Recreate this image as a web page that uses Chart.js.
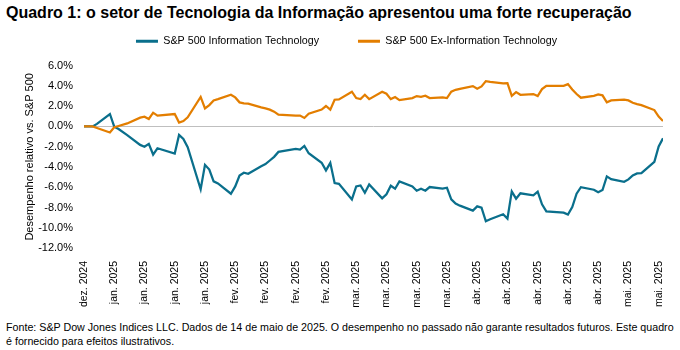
<!DOCTYPE html>
<html>
<head>
<meta charset="utf-8">
<script src="https://cdn.jsdelivr.net/npm/chart.js@4.4.1/dist/chart.umd.min.js"></script>
<style>
  html, body { margin: 0; padding: 0; background: #fff; }
  body { width: 680px; height: 350px; position: relative; overflow: hidden;
         font-family: "Liberation Sans", Arial, sans-serif; color: #000; }
  #title { position: absolute; left: 6px; top: 4px; font-size: 16px; font-weight: bold; white-space: nowrap; }
  #wrap { position: absolute; left: 0; top: -3px; width: 680px; height: 320px; }
  #note { position: absolute; left: 6px; top: 320px; width: 674px; font-size: 10.7px; line-height: 14px; white-space: nowrap; }
</style>
</head>
<body>
<div id="title">Quadro 1: o setor de Tecnologia da Informação apresentou uma forte recuperação</div>
<div id="wrap"><canvas id="chart"></canvas></div>
<div id="note">Fonte: S&amp;P Dow Jones Indices LLC. Dados de 14 de maio de 2025. O desempenho no passado não garante resultados futuros. Este quadro<br>é fornecido para efeitos ilustrativos.</div>
<script>
// trading days, 31/12/2024 - 14/05/2025
const tradingDates = [
  '2024-12-31',
  '2025-01-02', '2025-01-03', '2025-01-06', '2025-01-07', '2025-01-08', '2025-01-10',
  '2025-01-13', '2025-01-14', '2025-01-15', '2025-01-16', '2025-01-17',
  '2025-01-21', '2025-01-22', '2025-01-23', '2025-01-24',
  '2025-01-27', '2025-01-28', '2025-01-29', '2025-01-30', '2025-01-31',
  '2025-02-03', '2025-02-04', '2025-02-05', '2025-02-06', '2025-02-07',
  '2025-02-10', '2025-02-11', '2025-02-12', '2025-02-13', '2025-02-14',
  '2025-02-18', '2025-02-19', '2025-02-20', '2025-02-21',
  '2025-02-24', '2025-02-25', '2025-02-26', '2025-02-27', '2025-02-28',
  '2025-03-03', '2025-03-04', '2025-03-05', '2025-03-06', '2025-03-07',
  '2025-03-10', '2025-03-11', '2025-03-12', '2025-03-13', '2025-03-14',
  '2025-03-17', '2025-03-18', '2025-03-19', '2025-03-20', '2025-03-21',
  '2025-03-24', '2025-03-25', '2025-03-26', '2025-03-27', '2025-03-28',
  '2025-03-31', '2025-04-01', '2025-04-02', '2025-04-03', '2025-04-04',
  '2025-04-07', '2025-04-08', '2025-04-09', '2025-04-10', '2025-04-11',
  '2025-04-14', '2025-04-15', '2025-04-16', '2025-04-17',
  '2025-04-21', '2025-04-22', '2025-04-23', '2025-04-24', '2025-04-25',
  '2025-04-28', '2025-04-29', '2025-04-30', '2025-05-01', '2025-05-02',
  '2025-05-05', '2025-05-06', '2025-05-07', '2025-05-08', '2025-05-09',
  '2025-05-12', '2025-05-13', '2025-05-14'
];

// relative performance vs. S&P 500, %
const infoTech = [
  0,
  0, 0.25, 1.23, -0.02, -0.25, -0.85,
  -1.82, -2.0, -1.72, -2.77, -2.15,
  -2.67, -0.84, -1.23, -2.05,
  -6.2, -3.79, -4.25, -5.42, -5.62,
  -6.64, -5.92, -4.84, -4.57, -4.67,
  -3.92, -3.72, -3.36, -3.0, -2.51,
  -2.21, -2.28, -1.92, -2.64,
  -3.58, -4.34, -3.59, -5.59, -5.66,
  -7.2, -5.92, -5.82, -6.54, -5.72,
  -7.1, -6.7, -5.85, -6.15, -5.43,
  -5.92, -6.34, -6.15, -6.34, -5.98,
  -6.13, -6.05, -7.2, -7.62, -7.82,
  -8.31, -7.89, -8.02, -9.36, -9.16,
  -8.67, -9.1, -6.41, -7.13, -6.6,
  -6.8, -6.44, -7.69, -8.38,
  -8.51, -8.7, -7.95, -6.64, -6.0,
  -6.25, -6.5, -6.28, -4.93, -5.2,
  -5.46, -5.23, -4.84, -4.64, -4.61,
  -3.49, -1.98, -1.16
];
const exInfoTech = [
  0,
  0, -0.15, -0.6, -0.08, 0.05, 0.3,
  0.87, 0.97, 0.74, 1.36, 1.07,
  1.23, 0.38, 0.54, 0.9,
  2.92, 1.79, 2.11, 2.57, 2.7,
  3.13, 2.87, 2.38, 2.28, 2.25,
  1.89, 1.79, 1.66, 1.46, 1.16,
  1.07, 1.07, 0.84, 1.26,
  1.67, 2.02, 1.66, 2.64, 2.67,
  3.43, 2.8, 2.7, 3.13, 2.7,
  3.43, 3.23, 2.7, 2.9, 2.6,
  2.8, 3.0, 2.93, 3.03, 2.8,
  2.87, 2.8, 3.43, 3.62, 3.72,
  3.98, 3.72, 3.95, 4.48, 4.41,
  4.25, 4.28, 3.03, 3.39, 3.13,
  3.2, 3.0, 3.69, 4.02,
  4.02, 4.18, 3.66, 3.2, 2.84,
  3.03, 3.16, 3.07, 2.38, 2.57,
  2.64, 2.57, 2.34, 2.21, 2.11,
  1.62, 0.97, 0.54
];

// one label per week, starting on the first date
const xTickLabels = [
  'dez. 2024',
  'jan. 2025', 'jan. 2025', 'jan. 2025', 'jan. 2025',
  'fev. 2025', 'fev. 2025', 'fev. 2025', 'fev. 2025',
  'mar. 2025', 'mar. 2025', 'mar. 2025', 'mar. 2025',
  'abr. 2025', 'abr. 2025', 'abr. 2025', 'abr. 2025', 'abr. 2025',
  'mai. 2025', 'mai. 2025'
];
const tickStepDays = 7;
const yTicks = { min: -12, max: 6, step: 2 };

const seriesNames = ['S&P 500 Information Technology', 'S&P 500 Ex-Information Technology'];
const seriesColors = ['#0a6f8c', '#e37e00'];

const DAY = 86400000;
const t0 = Date.parse(tradingDates[0]);
const dayOf = d => Math.round((Date.parse(d) - t0) / DAY);
const toPoints = vals => vals.map((v, i) => ({ x: dayOf(tradingDates[i]), y: v }));

const PAD_LEFT = 30;
const PLOT_LEFT = 84;

new Chart(document.getElementById('chart'), {
  type: 'line',
  data: {
    datasets: [infoTech, exInfoTech].map((vals, i) => ({
      label: seriesNames[i],
      data: toPoints(vals),
      borderColor: seriesColors[i],
      backgroundColor: seriesColors[i],
      borderWidth: 2.25,
      pointRadius: 0,
      tension: 0,
      order: 1 - i
    }))
  },
  options: {
    responsive: true,
    maintainAspectRatio: false,
    animation: false,
    devicePixelRatio: 1,
    layout: { padding: { left: PAD_LEFT, right: 17, top: 0, bottom: 0 } },
    plugins: {
      legend: {
        position: 'top',
        labels: {
          color: '#000',
          font: { family: 'Liberation Sans', size: 10.7 },
          boxWidth: 22,
          boxHeight: 3,
          padding: 39,
          sort: (a, b) => a.datasetIndex - b.datasetIndex,
          generateLabels: chart => Chart.defaults.plugins.legend.labels.generateLabels(chart)
            .map(l => ({ ...l, lineWidth: 0 }))
        }
      },
      // empty subtitle only used as a gap between legend and plot
      subtitle: {
        display: true,
        text: '',
        position: 'top',
        weight: 500,
        font: { size: 1, lineHeight: 1 },
        padding: { top: 8, bottom: 0 }
      },
      tooltip: { enabled: false }
    },
    scales: {
      x: {
        type: 'linear',
        min: 0,
        max: dayOf(tradingDates[tradingDates.length - 1]),
        grid: { display: false },
        border: { display: false },
        afterBuildTicks: scale => {
          scale.ticks = xTickLabels.map((_, i) => ({ value: i * tickStepDays }));
        },
        afterFit: scale => { scale.height = 69; },
        ticks: {
          autoSkip: false,
          minRotation: 90,
          maxRotation: 90,
          padding: 5,
          color: '#000',
          font: { family: 'Liberation Sans', size: 10.5 },
          callback: v => xTickLabels[Math.round(v / tickStepDays)]
        }
      },
      y: {
        min: yTicks.min,
        max: yTicks.max,
        border: { display: false },
        grid: {
          drawTicks: false,
          lineWidth: 1,
          color: ctx => ctx.tick && ctx.tick.value === 0 ? '#bfbfbf' : 'rgba(0,0,0,0)'
        },
        afterFit: scale => { scale.width = PLOT_LEFT - PAD_LEFT; },
        ticks: {
          stepSize: yTicks.step,
          padding: 11,
          color: '#000',
          font: { family: 'Liberation Sans', size: 11 },
          callback: v => v.toFixed(1) + '%'
        },
        title: {
          display: true,
          text: 'Desempenho relativo vs. S&P 500',
          color: '#000',
          font: { family: 'Liberation Sans', size: 11 },
          padding: { top: -7, bottom: 0 }
        }
      }
    }
  }
});
</script>
</body>
</html>
